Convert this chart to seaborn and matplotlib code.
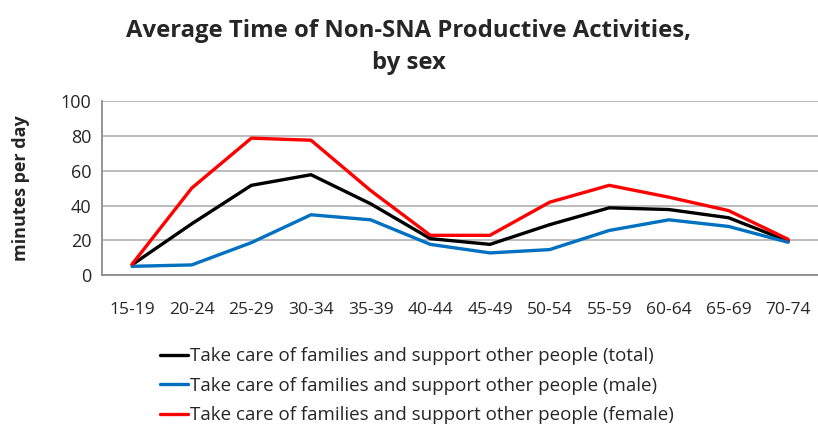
import pandas as pd
import matplotlib.pyplot as plt
import seaborn as sns

# age groups and minutes per day
age_groups = ['15-19', '20-24', '25-29', '30-34', '35-39', '40-44',
              '45-49', '50-54', '55-59', '60-64', '65-69', '70-74']
total = [6, 29.5, 51.6, 57.7, 41, 21, 17.7, 29, 38.7, 37.7, 33, 19.6]
male = [5.1, 5.9, 18.7, 34.7, 31.8, 17.7, 12.8, 14.7, 25.7, 31.8, 28, 18.9]
female = [6.3, 50, 78.7, 77.5, 48.6, 22.9, 22.9, 41.9, 51.6, 44.8, 37.1, 20.6]

series_names = ['Take care of families and support other people (total)',
                'Take care of families and support other people (male)',
                'Take care of families and support other people (female)']
colors = ['#000000', '#0070C0', '#FF0000']
y_ticks = [0, 20, 40, 60, 80, 100]

sns.set_theme(style='white')
plt.rcParams['font.family'] = ['Open Sans', 'DejaVu Sans']

df = pd.DataFrame({
    'age': age_groups * 3,
    'minutes': total + male + female,
    'series': [series_names[0]] * 12 + [series_names[1]] * 12 + [series_names[2]] * 12,
})

fig = plt.figure(figsize=(8.18, 4.30), dpi=100)
ax = fig.add_axes([0.125, 0.36, 0.875, 0.405])

sns.lineplot(data=df, x='age', y='minutes', hue='series', hue_order=series_names,
             palette=colors, linewidth=2.4, sort=False, ax=ax)

ax.set_ylim(0, 100)
ax.set_xlim(-0.5, len(age_groups) - 0.5)
ax.set_yticks(y_ticks)
ax.set_yticklabels([str(t) for t in y_ticks], fontsize=13)
ax.tick_params(axis='x', labelsize=12.5, pad=19, length=0)
ax.tick_params(axis='y', pad=8, length=0)
ax.yaxis.grid(True, color='#b0b0b0', linewidth=1.2)
ax.set_axisbelow(True)
for side in ['top', 'right']:
    ax.spines[side].set_visible(False)
ax.spines['left'].set_color('#888888')
ax.spines['bottom'].set_color('#888888')

ax.set_xlabel('')
ax.set_ylabel('minutes per day', fontsize=13, fontweight='bold', labelpad=22)

fig.suptitle('Average Time of Non-SNA Productive Activities,\nby sex',
             x=0.5, y=0.955, fontsize=17.2, fontweight='bold', linespacing=1.45)

leg = ax.legend(loc='upper left', bbox_to_anchor=(0.07, -0.37), frameon=False,
                fontsize=13.5, handlelength=1.5, handletextpad=0.1, labelspacing=0.62,
                borderaxespad=0)
for line in leg.get_lines():
    line.set_linewidth(2.4)

fig.savefig('out.png', dpi=100)
